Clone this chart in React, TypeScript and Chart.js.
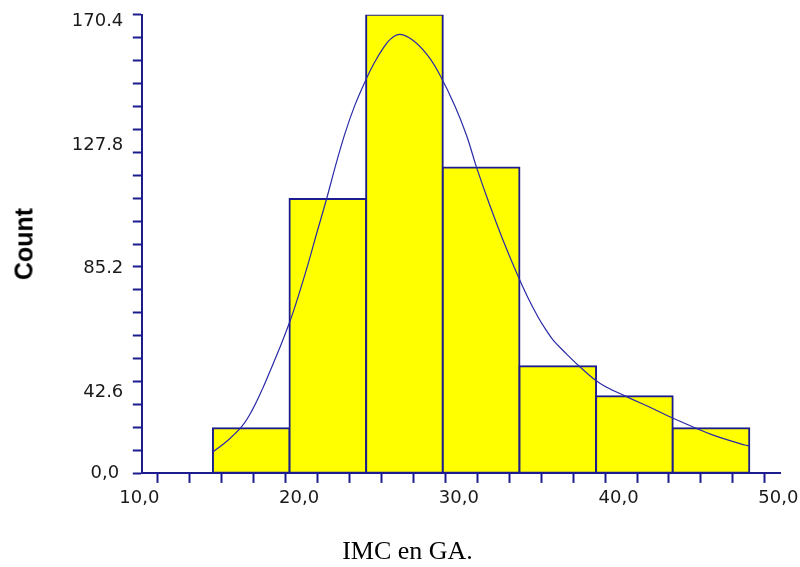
import { useEffect, useRef } from "react";
import { Chart, registerables } from "chart.js";

Chart.register(...registerables);

// Histogram bins (IMC) and counts
const binEdges = [14.45, 19.25, 24.04, 28.84, 33.64, 38.44, 43.23, 48.03];
const binCounts = [16.7, 101.9, 170.4, 113.6, 39.8, 28.6, 16.7];

// Density curve
const curveX = [14.47, 15.3, 16.25, 16.87, 17.6, 18.23, 18.75, 19.17, 19.48, 19.9, 20.42, 20.94, 21.57, 22.09, 22.72, 23.34, 24.07, 24.49, 25.11, 25.6, 26.16, 26.99, 27.93, 28.66, 29.6, 30.33, 30.96, 31.79, 32.62, 33.46, 34.15, 34.81, 35.3, 35.75, 36.58, 37.42, 38.67, 40.34, 42.01, 43.05, 44.72, 45.76, 47.75, 48.03];
const curveY = [8.0, 11.8, 17.3, 23.0, 32.0, 40.8, 48.3, 54.8, 60.0, 67.8, 78.0, 89.0, 102.0, 113.5, 126.3, 136.8, 146.8, 151.8, 158.0, 161.5, 163.1, 160.8, 155.0, 148.0, 136.5, 125.5, 113.6, 99.5, 86.5, 74.5, 65.5, 58.0, 53.3, 49.5, 44.4, 39.6, 33.5, 28.5, 24.0, 21.0, 16.7, 14.2, 10.5, 10.2];

// Axis tick labels
const xTickValues = [10, 20, 30, 40, 50];
const xTickLabels = ["10,0", "20,0", "30,0", "40,0", "50,0"];
const yZeroLabel = "0,0";
const yTickValues = [42.6, 85.2, 127.8, 170.4];
const yTickLabels = ["42.6", "85.2", "127.8", "170.4"];
const yMax = 170.4;
const yMinorCount = 20;

const NAVY = "#1c1c8e";
const TEXT = "#1a1a1a";
const tickFont = { family: "'DejaVu Sans', Verdana, sans-serif", size: 18 };

const noPad = (scale: any) => {
  scale.paddingTop = 0;
  scale.paddingBottom = 0;
  scale.paddingLeft = 0;
  scale.paddingRight = 0;
};

export default function App() {
  const ref = useRef<HTMLCanvasElement | null>(null);

  useEffect(() => {
    if (!ref.current) return;
    const bars = binCounts.map((c, i) => ({ x: (binEdges[i] + binEdges[i + 1]) / 2, y: c }));
    const curve = curveX.map((x, i) => ({ x, y: curveY[i] }));

    const chart = new Chart(ref.current, {
      type: "bar",
      data: {
        datasets: [
          {
            type: "line",
            data: curve,
            borderColor: "#2a2aa8",
            borderWidth: 1.2,
            pointRadius: 0,
            tension: 0.4,
            fill: false,
            order: 0,
            xAxisID: "x",
            yAxisID: "y",
          } as any,
          {
            type: "bar",
            data: bars,
            backgroundColor: "#ffff00",
            borderColor: NAVY,
            borderWidth: 2,
            borderSkipped: false,
            barThickness: "flex",
            barPercentage: 1,
            categoryPercentage: 1,
            inflateAmount: 1,
            order: 1,
            xAxisID: "x",
            yAxisID: "y",
          } as any,
        ],
      },
      options: {
        responsive: false,
        animation: false,
        events: [],
        layout: { padding: { top: 14.7, right: 19.2, left: 0, bottom: 0 } },
        plugins: { legend: { display: false }, tooltip: { enabled: false }, title: { display: false } },
        scales: {
          x: {
            type: "linear",
            min: 10,
            max: 50,
            offset: false,
            afterBuildTicks: (scale: any) => {
              const t = [];
              for (let v = 10; v <= 50; v += 2) t.push({ value: v });
              scale.ticks = t;
            },
            afterFit: (scale: any) => {
              scale.height = 93.7;
              noPad(scale);
            },
            ticks: {
              autoSkip: false,
              maxRotation: 0,
              padding: 5,
              labelOffset: -2.5,
              color: TEXT,
              font: tickFont,
              callback: (v: any) => {
                const i = xTickValues.indexOf(Number(v));
                return i >= 0 ? xTickLabels[i] : "";
              },
            },
            grid: {
              drawOnChartArea: false,
              drawTicks: true,
              tickLength: 9.6,
              tickWidth: 2,
              tickColor: NAVY,
            },
            border: { display: true, color: NAVY, width: 2 },
          },
          y: {
            type: "linear",
            min: 0,
            max: yMax,
            weight: 0,
            afterBuildTicks: (scale: any) => {
              const t = [];
              for (let i = 0; i <= yMinorCount; i++) t.push({ value: (yMax * i) / yMinorCount });
              scale.ticks = t;
            },
            afterFit: (scale: any) => {
              scale.width = 18.5;
              noPad(scale);
            },
            ticks: {
              autoSkip: false,
              mirror: true,
              padding: -51.3,
              color: TEXT,
              font: tickFont,
              callback: (_v: any, i: number) => (i === 0 ? yZeroLabel : ""),
            },
            grid: {
              drawOnChartArea: false,
              drawTicks: true,
              tickLength: 9,
              tickWidth: 2,
              tickColor: NAVY,
            },
            border: { display: true, color: NAVY, width: 2 },
          },
          yl: {
            type: "linear",
            position: "left",
            min: 13.87,
            max: 172.06,
            weight: 1,
            afterBuildTicks: (scale: any) => {
              scale.ticks = yTickValues.map((v) => ({ value: v }));
            },
            afterFit: (scale: any) => {
              scale.width = 123.3;
              noPad(scale);
            },
            ticks: {
              autoSkip: false,
              padding: 0,
              labelOffset: 2,
              color: TEXT,
              font: tickFont,
              callback: (v: any) => {
                const i = yTickValues.indexOf(Number(v));
                return i >= 0 ? yTickLabels[i] : "";
              },
            },
            grid: { display: false, drawTicks: false, drawOnChartArea: false },
            border: { display: false },
          },
        },
      } as any,
    });
    return () => chart.destroy();
  }, []);

  return (
    <div style={{ position: "fixed", left: 0, top: 0, width: 800, height: 567, background: "#fff", overflow: "hidden" }}>
      <canvas ref={ref} width={800} height={567} style={{ position: "absolute", left: 0, top: 0, width: 800, height: 567 }} />
      <div
        style={{
          position: "absolute",
          left: 23.5,
          top: 244,
          transform: "translate(-50%, -50%) rotate(-90deg)",
          font: "bold 25px 'Liberation Sans', Arial, sans-serif",
          color: "#000",
          whiteSpace: "nowrap",
          lineHeight: "25px",
        }}
      >
        Count
      </div>
      <div
        style={{
          position: "absolute",
          left: 0,
          width: 815,
          top: 538.2,
          textAlign: "center",
          font: "26px 'Liberation Serif', 'Times New Roman', serif",
          lineHeight: "26px",
          color: "#000",
          whiteSpace: "nowrap",
        }}
      >
        IMC en GA.
      </div>
    </div>
  );
}
